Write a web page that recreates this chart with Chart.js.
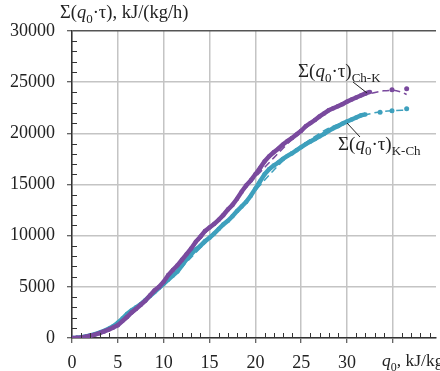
<!DOCTYPE html>
<html>
<head>
<meta charset="utf-8">
<script src="https://cdn.jsdelivr.net/npm/chart.js@4"></script>
<style>
  html, body { margin: 0; padding: 0; background: #fff; }
  #wrap { width: 440px; height: 371px; position: relative; }
</style>
</head>
<body>
<div id="wrap"><canvas id="chart"></canvas></div>
<script>
// measured points, Ch-K
const chkQ = [0, 0.5, 1, 1.5, 2, 2.5, 3, 3.5, 4, 4.5, 5, 5.5, 6, 6.5, 7, 7.5, 8, 8.5, 9, 9.5,
  10, 10.5, 11, 11.5, 12, 12.5, 13, 13.5, 14, 14.5, 15, 15.5, 16, 16.5, 17, 17.5, 18, 18.5, 19, 19.5,
  20, 20.5, 21, 21.5, 22, 22.5, 23, 23.5, 24, 24.5, 25, 25.5, 26, 26.5, 27, 27.5, 28, 28.5, 29, 29.5,
  30, 30.5, 31, 31.5, 32, 32.5];
const chkVal = [0, 20, 60, 120, 220, 330, 470, 640, 820, 1020, 1250, 1650, 2050, 2500, 2850, 3250, 3650, 4150, 4650, 5000,
  5500, 6150, 6650, 7100, 7650, 8200, 8750, 9400, 9900, 10450, 10800, 11150, 11550, 12000, 12550, 13000, 13600, 14300, 14900, 15400,
  16000, 16600, 17250, 17750, 18150, 18500, 18900, 19250, 19550, 19900, 20250, 20700, 21000, 21300, 21650, 21950, 22250, 22450, 22650, 22850,
  23100, 23300, 23500, 23700, 23900, 24050];
const chkDotsQ = [34.9, 36.5];
const chkDotsVal = [24250, 24350];

// measured points, K-Ch
const kchQ = [0, 0.5, 1, 1.5, 2, 2.5, 3, 3.5, 4, 4.5, 5, 5.5, 6, 6.5, 7, 7.5, 8, 8.5, 9, 9.5,
  10, 10.5, 11, 11.5, 12, 12.5, 13, 13.5, 14, 14.5, 15, 15.5, 16, 16.5, 17, 17.5, 18, 18.5, 19, 19.5,
  20, 20.5, 21, 21.5, 22, 22.5, 23, 23.5, 24, 24.5, 25, 25.5, 26, 26.5, 27, 27.5, 28, 28.5, 29, 29.5,
  30, 30.5, 31, 31.5, 32];
const kchVal = [0, 30, 80, 150, 260, 380, 520, 700, 900, 1150, 1500, 1900, 2350, 2700, 3000, 3300, 3700, 4100, 4500, 4900,
  5300, 5700, 6100, 6500, 7100, 7700, 8200, 8650, 9000, 9450, 9800, 10200, 10650, 11100, 11450, 11900, 12400, 12850, 13300, 13900,
  14600, 15300, 16000, 16500, 16850, 17150, 17500, 17800, 18050, 18350, 18650, 18950, 19200, 19450, 19700, 19950, 20250, 20500, 20700, 20950,
  21150, 21350, 21550, 21750, 21850];
const kchDotsQ = [33.6, 34.9, 36.5];
const kchDotsVal = [22050, 22200, 22400];

// fitted (dashed) curves
const trendQ = [0, 2, 4, 6, 8, 10, 12, 14, 16, 18, 20, 22, 24, 26, 28, 30, 32, 34, 35, 36, 36.5];
const chkTrend = [0, 200, 800, 1950, 3550, 5450, 7550, 9700, 11700, 13700, 15700, 17600, 19400, 20900, 22150, 23100, 23750, 24150, 24200, 24000, 23800];
const kchTrend = [0, 250, 1000, 2200, 3650, 5150, 6950, 8800, 10600, 12400, 14400, 16400, 18100, 19400, 20500, 21200, 21800, 22150, 22220, 22250, 22250];

const xTicks = [0, 5, 10, 15, 20, 25, 30, 35];

const purple = '#7a4a9e';
const teal = '#3ea0bd';
const serif = '"Liberation Serif", "DejaVu Serif", serif';

function pts(q, v) { return q.map((x, i) => ({ x: x, y: v[i] })); }

// draw runs of text: [text, italic, sub]
function rich(ctx, x, y, parts, size) {
  let cx = x;
  parts.forEach(p => {
    const s = p[2] ? Math.round(size * 0.7) : size;
    ctx.font = (p[1] ? 'italic ' : '') + s + 'px ' + serif;
    ctx.fillText(p[0], cx, p[2] ? y + size * 0.28 : y);
    cx += ctx.measureText(p[0]).width;
  });
  return cx;
}

const extras = {
  id: 'extras',
  afterDraw(chart) {
    const ctx = chart.ctx;
    const xs = chart.scales.x, ys = chart.scales.y;
    const a = chart.chartArea;
    ctx.save();
    // inward minor ticks
    ctx.strokeStyle = '#333';
    ctx.lineWidth = 1;
    for (let v = 1000; v < 30000; v += 1000) {
      if (v % 5000 === 0) continue;
      const py = Math.round(ys.getPixelForValue(v)) + 0.5;
      ctx.beginPath(); ctx.moveTo(a.left, py); ctx.lineTo(a.left + 5, py); ctx.stroke();
    }
    for (let q = 1; q < 40; q++) {
      if (q % 5 === 0) continue;
      const px = Math.round(xs.getPixelForValue(q)) + 0.5;
      ctx.beginPath(); ctx.moveTo(px, a.bottom); ctx.lineTo(px, a.bottom - 5); ctx.stroke();
    }
    // titles
    ctx.fillStyle = '#222';
    ctx.textBaseline = 'alphabetic';
    ctx.textAlign = 'left';
    rich(ctx, 60, 18, [['Σ(', false, false], ['q', true, false], ['0', false, true], ['·τ), kJ/(kg/h)', false, false]], 18.5);
    rich(ctx, 382, 366, [['q', true, false], ['0', false, true], [', kJ/kg', false, false]], 17.5);
    // curve labels
    rich(ctx, 298, 77, [['Σ(', false, false], ['q', true, false], ['0', false, true], ['·τ)', false, false], ['Ch-K', false, true]], 19);
    rich(ctx, 338, 150, [['Σ(', false, false], ['q', true, false], ['0', false, true], ['·τ)', false, false], ['K-Ch', false, true]], 19);
    // leader lines
    ctx.strokeStyle = '#222';
    ctx.lineWidth = 1;
    ctx.beginPath(); ctx.moveTo(353, 82); ctx.lineTo(367, 93); ctx.stroke();
    ctx.beginPath(); ctx.moveTo(347, 123); ctx.lineTo(360, 137); ctx.stroke();
    ctx.restore();
  }
};

new Chart(document.getElementById('chart'), {
  type: 'scatter',
  data: {
    datasets: [
      { data: pts(chkQ, chkVal), showLine: true, borderColor: purple, backgroundColor: purple,
        borderWidth: 4.5, pointRadius: 2.2, pointBorderWidth: 0 },
      { data: pts(kchQ, kchVal), showLine: true, borderColor: teal, backgroundColor: teal,
        borderWidth: 4.5, pointRadius: 2.2, pointBorderWidth: 0 },
      { data: pts(chkDotsQ, chkDotsVal), showLine: false, backgroundColor: purple, pointRadius: 2.5, pointBorderWidth: 0 },
      { data: pts(kchDotsQ, kchDotsVal), showLine: false, backgroundColor: teal, pointRadius: 2.5, pointBorderWidth: 0 },
      { data: pts(trendQ, chkTrend), showLine: true, borderColor: purple, borderWidth: 1.5,
        borderDash: [7, 4], pointRadius: 0, cubicInterpolationMode: 'monotone' },
      { data: pts(trendQ, kchTrend), showLine: true, borderColor: teal, borderWidth: 1.5,
        borderDash: [7, 4], pointRadius: 0, cubicInterpolationMode: 'monotone' }
    ]
  },
  options: {
    responsive: true,
    maintainAspectRatio: false,
    animation: false,
    layout: { padding: { top: 31, right: 0, left: 0, bottom: 0 } },
    plugins: { legend: { display: false }, tooltip: { enabled: false } },
    scales: {
      x: {
        type: 'linear', min: 0, max: 39.7,
        afterBuildTicks: s => { s.ticks = xTicks.map(v => ({ value: v })); },
        afterFit: s => { s.height = 33; },
        border: { color: '#333', width: 1.5 },
        grid: { color: '#c4c4c4', lineWidth: 1.5, tickLength: 5, tickColor: '#333', tickWidth: 1 },
        ticks: {
          color: '#222', padding: 9, maxRotation: 0,
          font: { family: serif, size: 18 },
          callback: v => (v === 35 ? '' : String(v))
        }
      },
      y: {
        min: 0, max: 30000,
        afterFit: s => { s.width = 72; },
        border: { color: '#333', width: 1.5 },
        grid: {
          color: c => (c.tick && c.tick.value === 30000 ? '#555' : '#c4c4c4'),
          lineWidth: 1.5, tickLength: 5, tickColor: '#333', tickWidth: 1
        },
        ticks: {
          color: '#222', padding: 12, stepSize: 5000,
          font: { family: serif, size: 18 },
          callback: v => String(v)
        }
      }
    }
  },
  plugins: [extras]
});
</script>
</body>
</html>
